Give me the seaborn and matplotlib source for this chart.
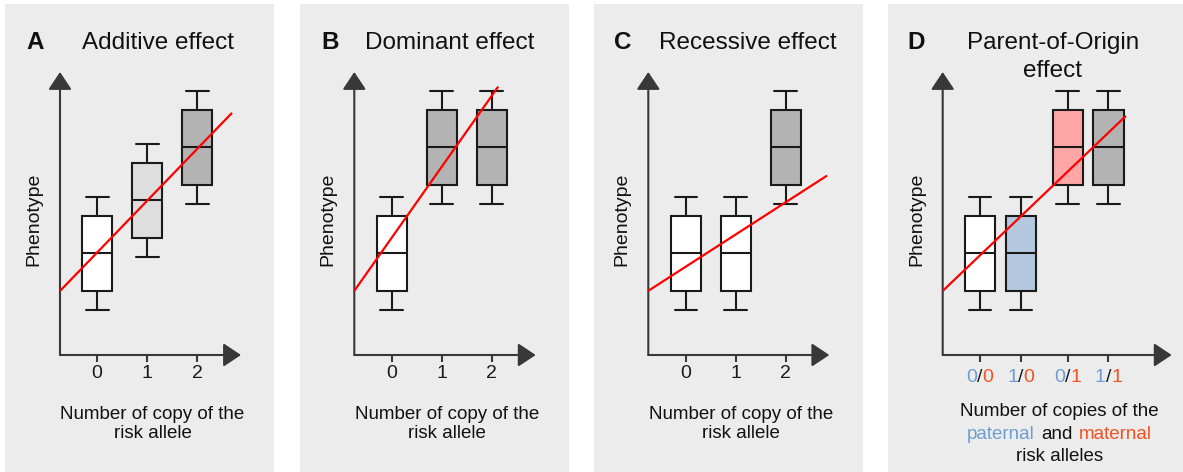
import numpy as np
import pandas as pd
import matplotlib
matplotlib.use("Agg")
import matplotlib.pyplot as plt
import seaborn as sns
from matplotlib.patches import Rectangle
from matplotlib.offsetbox import TextArea, HPacker, VPacker, AnnotationBbox

# ---------------- data ----------------
# five-number summaries: whisker low, Q1, median, Q3, whisker high (phenotype units)
LOW = [2.37, 3.37, 5.35, 7.33, 8.33]
MID = [5.16, 6.16, 8.14, 10.12, 11.10]
HIGH = [7.95, 8.93, 10.95, 12.91, 13.91]

A_GROUPS = ["0", "1", "2"]
A_BOXES = [LOW, MID, HIGH]
B_GROUPS = ["0", "1", "2"]
B_BOXES = [LOW, HIGH, HIGH]
C_GROUPS = ["0", "1", "2"]
C_BOXES = [LOW, LOW, HIGH]
D_GROUPS = ["0/0", "1/0", "0/1", "1/1"]
D_PATERNAL = ["0", "1", "0", "1"]
D_MATERNAL = ["0", "0", "1", "1"]
D_BOXES = [LOW, LOW, HIGH, HIGH]

# red trend lines: end points (x in group units, y in phenotype units)
A_LINE_X = [-0.74, 2.70]
A_LINE_Y = [3.37, 12.74]
B_LINE_X = [-0.75, 2.13]
B_LINE_Y = [3.37, 14.12]
C_LINE_X = [-0.76, 2.83]
C_LINE_Y = [3.37, 9.44]
D_LINE_X = [-0.91, 3.56]
D_LINE_Y = [3.37, 12.58]

# ---------------- layout / style ----------------
W, H = 1183, 472
BG = "#ececec"
AXC = "#383838"
EDGE = "#1a1a1a"
BLUE = "#6e9dd4"
RED = "#f5501f"
Y_TOP = 14.89

sns.set_style("white")
plt.rcParams["font.family"] = ["Liberation Sans", "DejaVu Sans"]

panels = [
    dict(letter="A", title="Additive effect", groups=A_GROUPS, boxes=A_BOXES,
         colors=["#ffffff", "#dedede", "#b3b3b3"], line=(A_LINE_X, A_LINE_Y),
         pos=[0, 1, 2], bg=(5, 274), left=60, right=241, tick0=97, unit=50,
         width=0.6, cap=0.46, letter_x=26, title_x=157.5),
    dict(letter="B", title="Dominant effect", groups=B_GROUPS, boxes=B_BOXES,
         colors=["#ffffff", "#b3b3b3", "#b3b3b3"], line=(B_LINE_X, B_LINE_Y),
         pos=[0, 1, 2], bg=(300, 569), left=354.3, right=535.7, tick0=391.7, unit=50,
         width=0.6, cap=0.46, letter_x=321, title_x=449.5),
    dict(letter="C", title="Recessive effect", groups=C_GROUPS, boxes=C_BOXES,
         colors=["#ffffff", "#ffffff", "#b3b3b3"], line=(C_LINE_X, C_LINE_Y),
         pos=[0, 1, 2], bg=(594, 863), left=648.3, right=829.3, tick0=686, unit=49.85,
         width=0.6, cap=0.46, letter_x=614, title_x=747.5),
    dict(letter="D", title="Parent-of-Origin\neffect", groups=D_GROUPS, boxes=D_BOXES,
         colors=["#ffffff", "#b4c8df", "#ffa6a6", "#b3b3b3"], line=(D_LINE_X, D_LINE_Y),
         pos=[0, 1, 2.14, 3.13], bg=(888, 1183), left=942.7, right=1171.7, tick0=980, unit=41,
         width=0.75, cap=0.56, letter_x=907, title_x=1053),
]

fig = plt.figure(figsize=(W / 100, H / 100), dpi=100)
fig.patch.set_facecolor("white")


def fx(x):
    return x / W


def fy(y):
    return 1 - y / H


arrow_kw = dict(arrowstyle="-|>,head_length=1.08,head_width=0.72", mutation_scale=10,
                color=AXC, lw=1.5, shrinkA=0, shrinkB=0)

for p in panels:
    b0, b1 = p["bg"]
    fig.patches.append(Rectangle((fx(b0), 0), fx(b1 - b0), fy(4), transform=fig.transFigure,
                                 facecolor=BG, edgecolor="none", zorder=-5))
    ax = fig.add_axes([fx(p["left"]), fy(355), fx(p["right"] - p["left"]), (355 - 72) / H])
    ax.patch.set_visible(False)
    ax.set_zorder(2)

    rows = [(pos, g, v) for pos, g, box in zip(p["pos"], p["groups"], p["boxes"]) for v in box]
    df = pd.DataFrame(rows, columns=["pos", "group", "phenotype"])
    sns.boxplot(data=df, x="pos", y="phenotype", hue="group", hue_order=p["groups"],
                palette=dict(zip(p["groups"], p["colors"])), native_scale=True,
                width=p["width"], whis=np.inf, saturation=1, linecolor=EDGE,
                linewidth=1.5, legend=False, ax=ax, capwidths=p["cap"])

    lx, ly = p["line"]
    ax.plot(lx, ly, color="#ff0000", lw=1.6, zorder=6, clip_on=False, solid_capstyle="butt")

    ax.set_xlim((p["left"] - p["tick0"]) / p["unit"], (p["right"] - p["tick0"]) / p["unit"])
    ax.set_ylim(0, Y_TOP)
    for s in ax.spines.values():
        s.set_visible(False)
    ax.set_xlabel("")
    ax.set_ylabel("")
    ax.set_yticks([])
    ax.set_xticks(p["pos"])
    if p["letter"] != "D":
        ax.set_xticklabels(p["groups"])
    else:
        ax.set_xticklabels([""] * len(p["pos"]))
    ax.tick_params(axis="x", bottom=True, labelbottom=True, direction="out", length=5,
                   width=1.5, color=AXC, labelsize=14, pad=2.5, labelcolor="#1a1a1a")

    ax.annotate("", xy=(0, 1), xytext=(0, 0), xycoords="axes fraction",
                arrowprops=arrow_kw, annotation_clip=False)
    ax.annotate("", xy=(1, 0), xytext=(0, 0), xycoords="axes fraction",
                arrowprops=arrow_kw, annotation_clip=False)

    # letters and titles
    fig.text(fx(p["letter_x"]), fy(49), p["letter"], fontsize=17.5, fontweight="bold",
             ha="left", va="baseline", color="#111111")
    fig.text(fx(p["title_x"]), fy(77 if p["letter"] == "D" else 49), p["title"],
             fontsize=17.5, ha="center", va="baseline", color="#111111", linespacing=1.35)
    fig.text(fx(p["left"] - 26), fy(219), "Phenotype", rotation=90, ha="center",
             va="center", fontsize=14, color="#111111")

    xc = (p["left"] + p["right"]) / 2 + 2
    if p["letter"] != "D":
        fig.text(fx(xc), fy(438), "Number of copy of the\nrisk allele", ha="center",
                 va="baseline", fontsize=13.5, linespacing=1.15, color="#111111")
    else:
        tp = dict(fontsize=14, color="#1a1a1a")
        for pos, pat, mat in zip(p["pos"], D_PATERNAL, D_MATERNAL):
            hp = HPacker(children=[TextArea(pat, textprops=dict(tp, color=BLUE)),
                                   TextArea("/", textprops=tp),
                                   TextArea(mat, textprops=dict(tp, color=RED))],
                         sep=0, pad=0, align="baseline")
            ab = AnnotationBbox(hp, (pos, 0), xycoords=("data", "axes fraction"),
                                xybox=(0, -14), boxcoords="offset pixels",
                                box_alignment=(0.5, 1), frameon=False, pad=0,
                                annotation_clip=False)
            ax.add_artist(ab)
        lp = dict(fontsize=13.5, color="#111111")
        lines = [
            TextArea("Number of copies of the", textprops=lp),
            HPacker(children=[TextArea("paternal", textprops=dict(lp, color=BLUE)),
                              TextArea("and", textprops=lp),
                              TextArea("maternal", textprops=dict(lp, color=RED))],
                    sep=4.5, pad=0, align="baseline"),
            TextArea("risk alleles", textprops=lp),
        ]
        vp = VPacker(children=lines, sep=4, pad=0, align="center")
        ab = AnnotationBbox(vp, (fx(xc), fy(403)), xycoords="figure fraction",
                            box_alignment=(0.5, 1), frameon=False, pad=0,
                            annotation_clip=False)
        fig.add_artist(ab)

fig.savefig("out.png", dpi=100, facecolor="white")
